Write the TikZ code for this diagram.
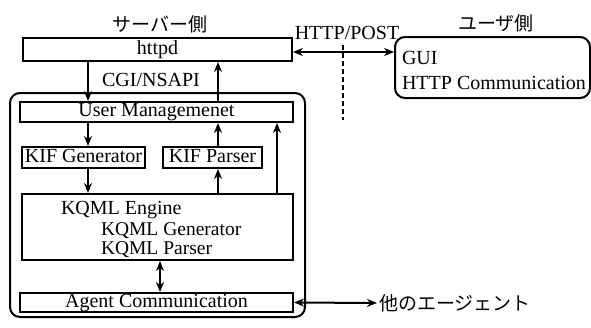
\documentclass[tikz,border=0pt]{standalone}
\usepackage{fontspec}
\setmainfont{Liberation Serif}
\newfontfamily\jpfont{Noto Sans CJK JP}
\usetikzlibrary{arrows.meta}

\newcommand{\lineHU}{(httpd.south -| cL) -- (usr.north -| cL)}
\newcommand{\lineUH}{(usr.north -| cR) -- (httpd.south -| cR)}
\newcommand{\lineUG}{(usr.south -| cL) -- (kifG.north -| cL)}
\newcommand{\linePU}{(kifP.north -| cR) -- (usr.south -| cR)}
\newcommand{\lineGK}{(kifG.south -| cL) -- (kqml.north -| cL)}
\newcommand{\lineKP}{(kqml.north -| cR) -- (kifP.south -| cR)}
\newcommand{\lineKU}{(kqml.north -| cX) -- (usr.south -| cX)}
\newcommand{\lineKA}{(kqml.south -| cM) -- (agent.north -| cM)}

\begin{document}
\begin{tikzpicture}[x=1pt, y=-1pt, line width=2pt,
    >={Stealth[length=10pt, width=8pt]},
    txt/.style={inner sep=1pt, font=\fontsize{20}{22}\selectfont},
    jtxt/.style={inner sep=1pt, font=\fontsize{19}{22}\selectfont\jpfont},
    box/.style={draw, inner sep=0pt, text height=13pt, text depth=4pt,
        font=\fontsize{20}{22}\selectfont}]
        \useasboundingbox (0,0) rectangle (591,327);
        \node[draw, rounded corners=10pt, minimum width=295pt, minimum height=224pt] (srv) at (157.5, 205) {};
        \node[jtxt] (srvL) at (160, 24) {サーバー側};
        \node[jtxt] (usrL) at (496, 23) {ユーザ側};
        \node[box, minimum width=269pt, minimum height=23pt] (httpd) at (157.5, 49.5) {httpd};
        \node[txt] (cgi) at (151, 80) {CGI/NSAPI};
        \node[box, minimum width=273pt, minimum height=20pt] (usr) at (156.5, 112) {User Managemenet};
        \node[box, minimum width=123pt, minimum height=21pt] (kifG) at (83.5, 157.5) {KIF Generator};
        \node[box, minimum width=99pt, minimum height=21pt] (kifP) at (212.5, 157.5) {KIF Parser};
        \node[draw, minimum width=271pt, minimum height=66pt] (kqml) at (157.5, 227) {};
        \node[txt, anchor=west] (kqE) at (59, 210) {KQML Engine};
        \node[txt, anchor=north west, align=left, font=\fontsize{19.5}{18.5}\selectfont] (kqGP) at (99, 221) {KQML Generator\\KQML Parser};
        \node[box, minimum width=273pt, minimum height=19pt] (agent) at (156.5, 302.5) {Agent Communication};
        \node[jtxt, anchor=west] (other) at (377, 303) {他のエージェント};
        \node[draw, rounded corners=10pt, minimum width=195pt, minimum height=61pt] (gui) at (492.5, 67.5) {};
        \node[txt, anchor=west] (guiT) at (400, 58) {GUI};
        \node[txt, anchor=west] (guiC) at (400, 83) {HTTP Communication};
        \node[txt] (post) at (347, 33) {HTTP/POST};
        \coordinate (cL) at (88, 0);
        \coordinate (cR) at (218, 0);
        \coordinate (cX) at (277, 0);
        \coordinate (cM) at (160, 0);
        \coordinate (cP) at (343, 52);
        \coordinate (dT) at (343, 45);
        \coordinate (dB) at (343, 120);

        \draw[->] \lineHU;
        \draw[->] \lineUH;
        \draw[->] \lineUG;
        \draw[->] \linePU;
        \draw[->] \lineGK;
        \draw[->] \lineKP;
        \draw[->] \lineKU;
        \draw[<->] \lineKA;
        \draw[<->] (httpd.east |- cP) -- (gui.west |- cP);
        \draw[<->] (agent.east) -- (other.west);
        \draw[dash pattern=on 5pt off 3pt] (dT) -- (dB);

    \end{tikzpicture}
\end{document}
